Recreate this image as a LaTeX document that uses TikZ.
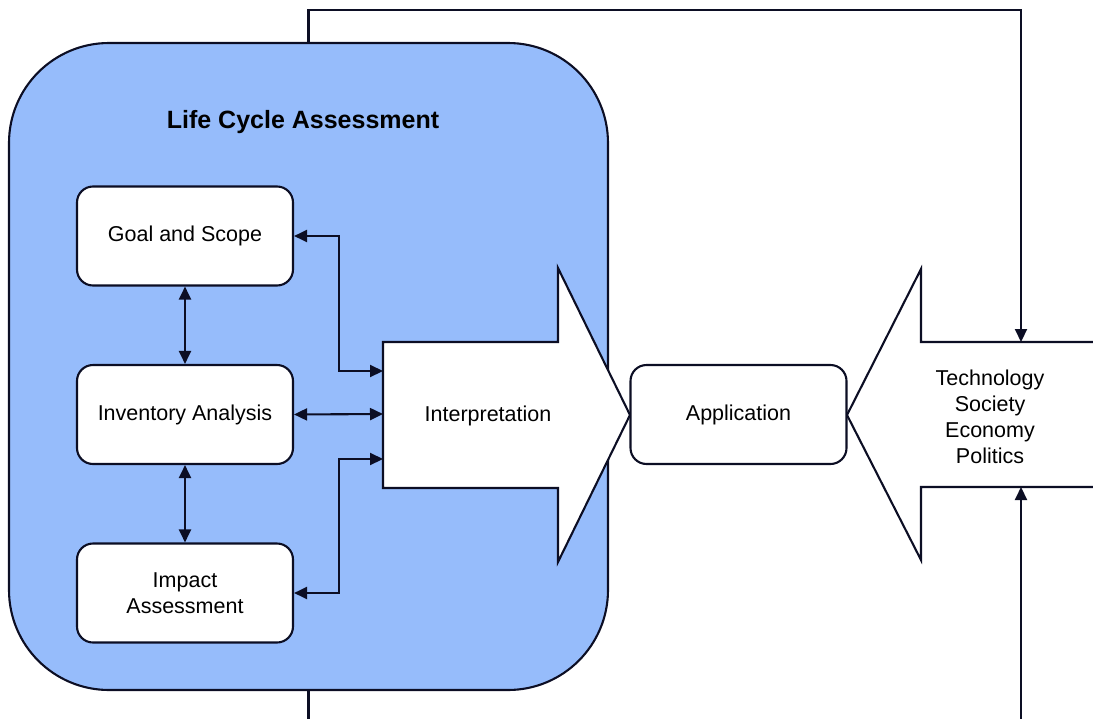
\documentclass[tikz,border=0pt]{standalone}
\usepackage{fontspec}
\setmainfont{Liberation Sans}
\usetikzlibrary{arrows.meta}
\definecolor{lcablue}{RGB}{150,188,251}
\definecolor{edge}{RGB}{12,14,36}
\begin{document}
\begin{tikzpicture}[x=1pt,y=-1pt,
  tip/.tip={Triangle[length=13pt,width=12pt]},
  stage/.style={draw=edge, line width=2.1pt, fill=white, rounded corners=16pt,
    minimum width=216pt, minimum height=99pt, align=center, inner sep=0pt,
    font=\fontsize{21.5}{26}\selectfont},
  link/.style={draw=edge, line width=2.1pt, tip-tip},
  feed/.style={draw=edge, line width=2.1pt, -tip},
  plain/.style={draw=edge, line width=2.1pt},
  bigarrow/.style={draw=edge, line width=2.1pt, fill=white, line join=miter},
  txt/.style={align=center, inner sep=0pt, font=\fontsize{21.5}{26}\selectfont}
]
\useasboundingbox (0,0) rectangle (1093,718);

% Life cycle assessment frame
\node (lca) [draw=edge, line width=2.1pt, fill=lcablue, rounded corners=100pt,
  minimum width=599pt, minimum height=647pt, inner sep=0pt] at (308.5,366.5) {};
\node (title) [font=\fontsize{25}{30}\selectfont\bfseries, inner sep=0pt] at (303,122) {Life Cycle Assessment};

% Interpretation arrow
\draw[bigarrow] (383,342) -- (558,342) -- (558,268) -- (630,415) -- (558,562)
  -- (558,488) -- (383,488) -- cycle;
\node (interp) [txt] at (488,416) {Interpretation};
\coordinate (iA) at (383,371);
\coordinate (iB) at (383,414);
\coordinate (iC) at (383,459);

% Context arrow
\draw[bigarrow] (1094,342) -- (921,342) -- (921,269) -- (847,415) -- (921,560)
  -- (921,487) -- (1094,487);
\node (ctx) [txt] at (990,417) {Technology\\Society\\Economy\\Politics};
\coordinate (ctxtop) at (1021,342);
\coordinate (ctxbot) at (1021,487);
\coordinate (topleft) at (308.5,10);
\coordinate (lowleft) at (308.5,719);
\coordinate (lowright) at (1021,719);

% Phases
\node (goal) [stage] at (185,236) {Goal and Scope};
\node (inv)  [stage] at (185,414.5) {Inventory Analysis};
\node (imp)  [stage] at (185,593) {Impact\\Assessment};
\node (app)  [stage] at (738.5,414.5) {Application};

% Links between phases
\draw[link] (goal.south) -- (inv.north);
\draw[link] (inv.south) -- (imp.north);
\draw[link] (goal.east) -- ++(45,0) |- (iA);
\draw[link] (inv.east) -- (iB);
\draw[link] (imp.east) -- ++(45,0) |- (iC);

% Feedback with the context
\draw[feed] (lca.north) -- (topleft) -| (ctxtop);
\draw[plain] (lca.south) -- (lowleft);
\draw[feed] (lowright) -- (ctxbot);
\end{tikzpicture}
\end{document}
